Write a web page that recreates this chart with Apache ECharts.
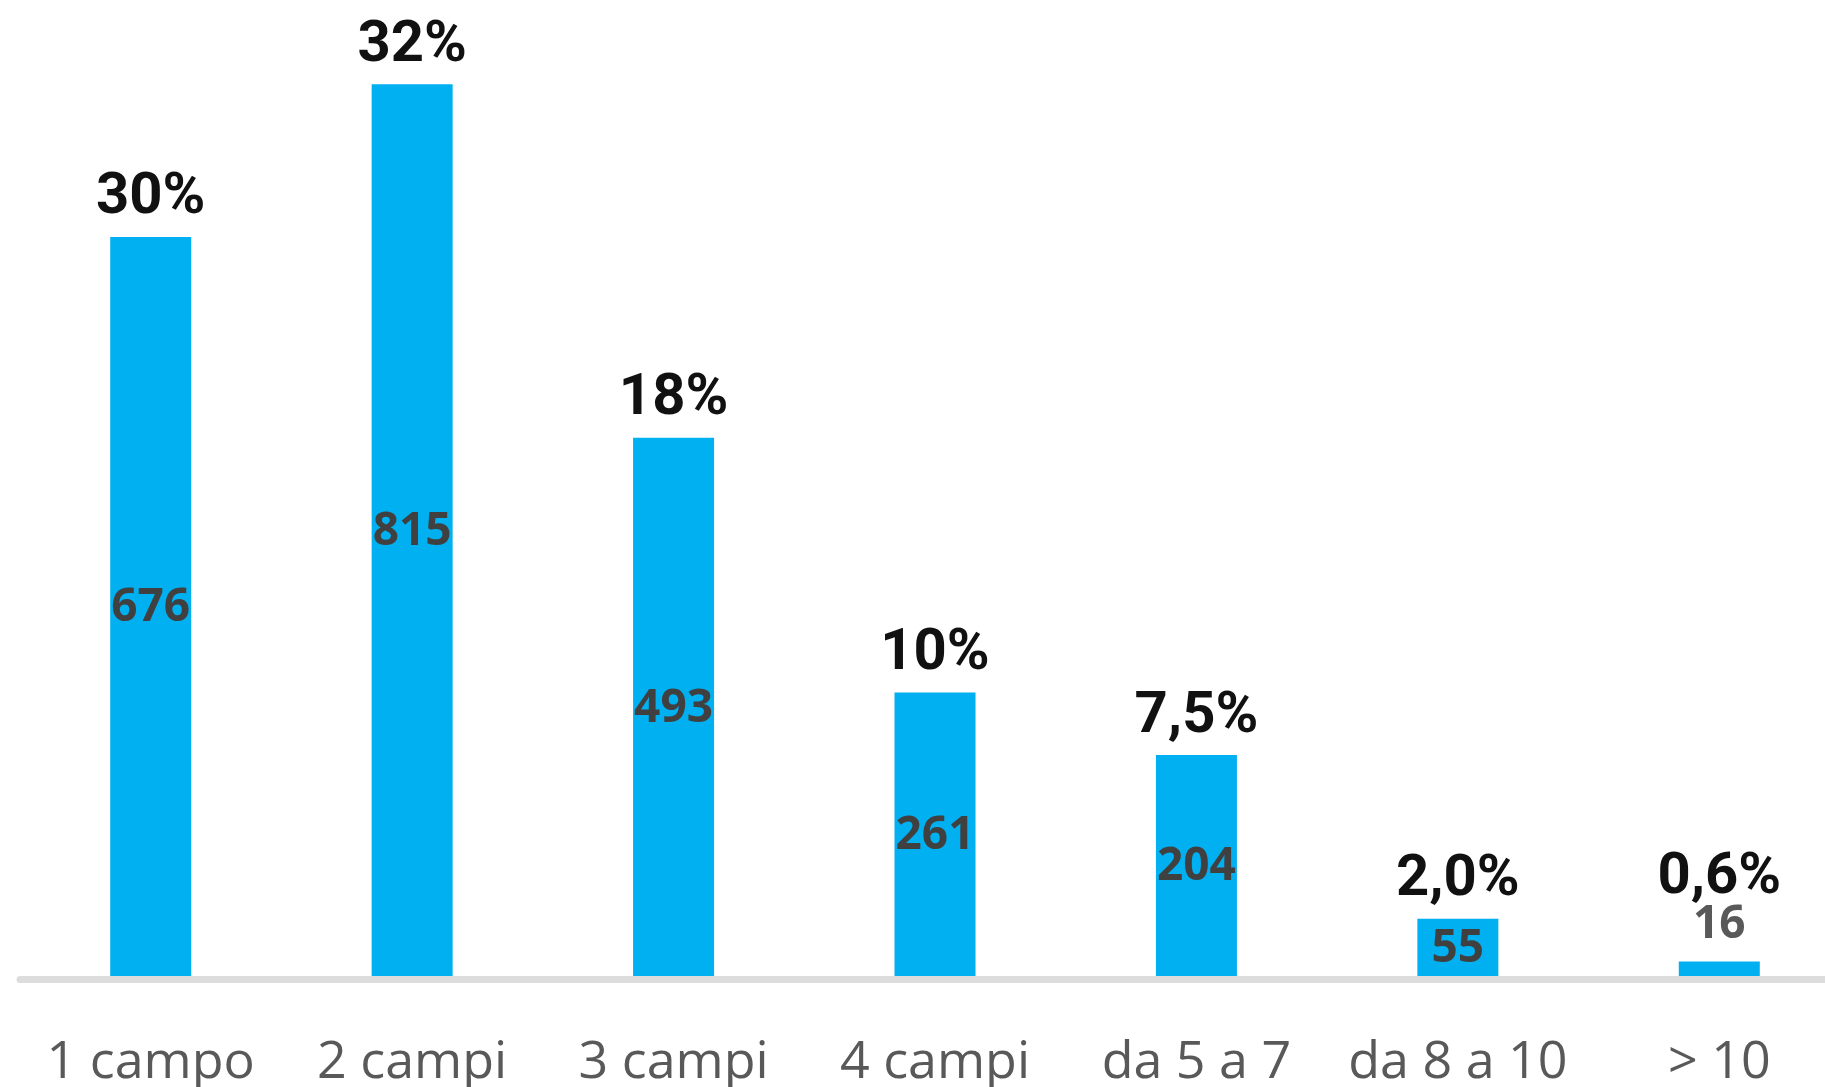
<!DOCTYPE html>
<html>
<head>
<meta charset="utf-8">
<script src="https://cdn.jsdelivr.net/npm/echarts@6/dist/echarts.min.js"></script>
<style>
html,body{margin:0;padding:0;background:#fff;}
#chart{width:1825px;height:1087px;}
</style>
</head>
<body>
<div id="chart"></div>
<script>
const categories = ['1 campo', '2 campi', '3 campi', '4 campi', 'da 5 a 7', 'da 8 a 10', '> 10'];
const counts = [676, 815, 493, 261, 204, 55, 16];
const percents = ['30%', '32%', '18%', '10%', '7,5%', '2,0%', '0,6%'];

const chart = echarts.init(document.getElementById('chart'));

const countData = counts.map(function (v, i) {
  if (v < 30) {
    return { value: v, label: { position: 'top', distance: 14, color: '#595959' } };
  }
  return { value: v };
});
const pctData = counts.map(function (v, i) {
  if (v < 30) {
    return { value: v, label: { distance: 54 } };
  }
  return { value: v };
});

chart.setOption({
  backgroundColor: '#ffffff',
  animation: false,
  grid: { left: 20, width: 1830, top: 13, bottom: 108, outerBoundsMode: 'none', containLabel: false },
  xAxis: {
    type: 'category',
    data: categories,
    z: 5,
    axisTick: { show: false },
    axisLine: { lineStyle: { color: '#dcdcdc', width: 7 } },
    axisLabel: {
      interval: 0,
      margin: 58,
      color: '#595959',
      fontSize: 52,
      lineHeight: 52,
      fontFamily: '"Open Sans", "Noto Sans", sans-serif'
    }
  },
  yAxis: {
    type: 'value',
    show: false,
    min: 0,
    max: 880,
    splitLine: { show: false }
  },
  series: [
    {
      type: 'bar',
      data: countData,
      barWidth: 81,
      itemStyle: { color: '#00B0F0' },
      label: {
        show: true,
        position: 'inside',
        color: '#404040',
        fontSize: 46,
        fontWeight: 'bold',
        fontFamily: '"Open Sans", "Noto Sans", sans-serif'
      }
    },
    {
      type: 'bar',
      data: pctData,
      barWidth: 81,
      barGap: '-100%',
      z: 4,
      itemStyle: { color: 'rgba(0,0,0,0)' },
      label: {
        show: true,
        position: 'top',
        distance: 9,
        color: '#111111',
        fontSize: 58,
        lineHeight: 58,
        fontWeight: 'bold',
        fontFamily: 'Roboto, "Liberation Sans", sans-serif',
        formatter: function (p) { return percents[p.dataIndex]; }
      }
    }
  ]
});
</script>
</body>
</html>
